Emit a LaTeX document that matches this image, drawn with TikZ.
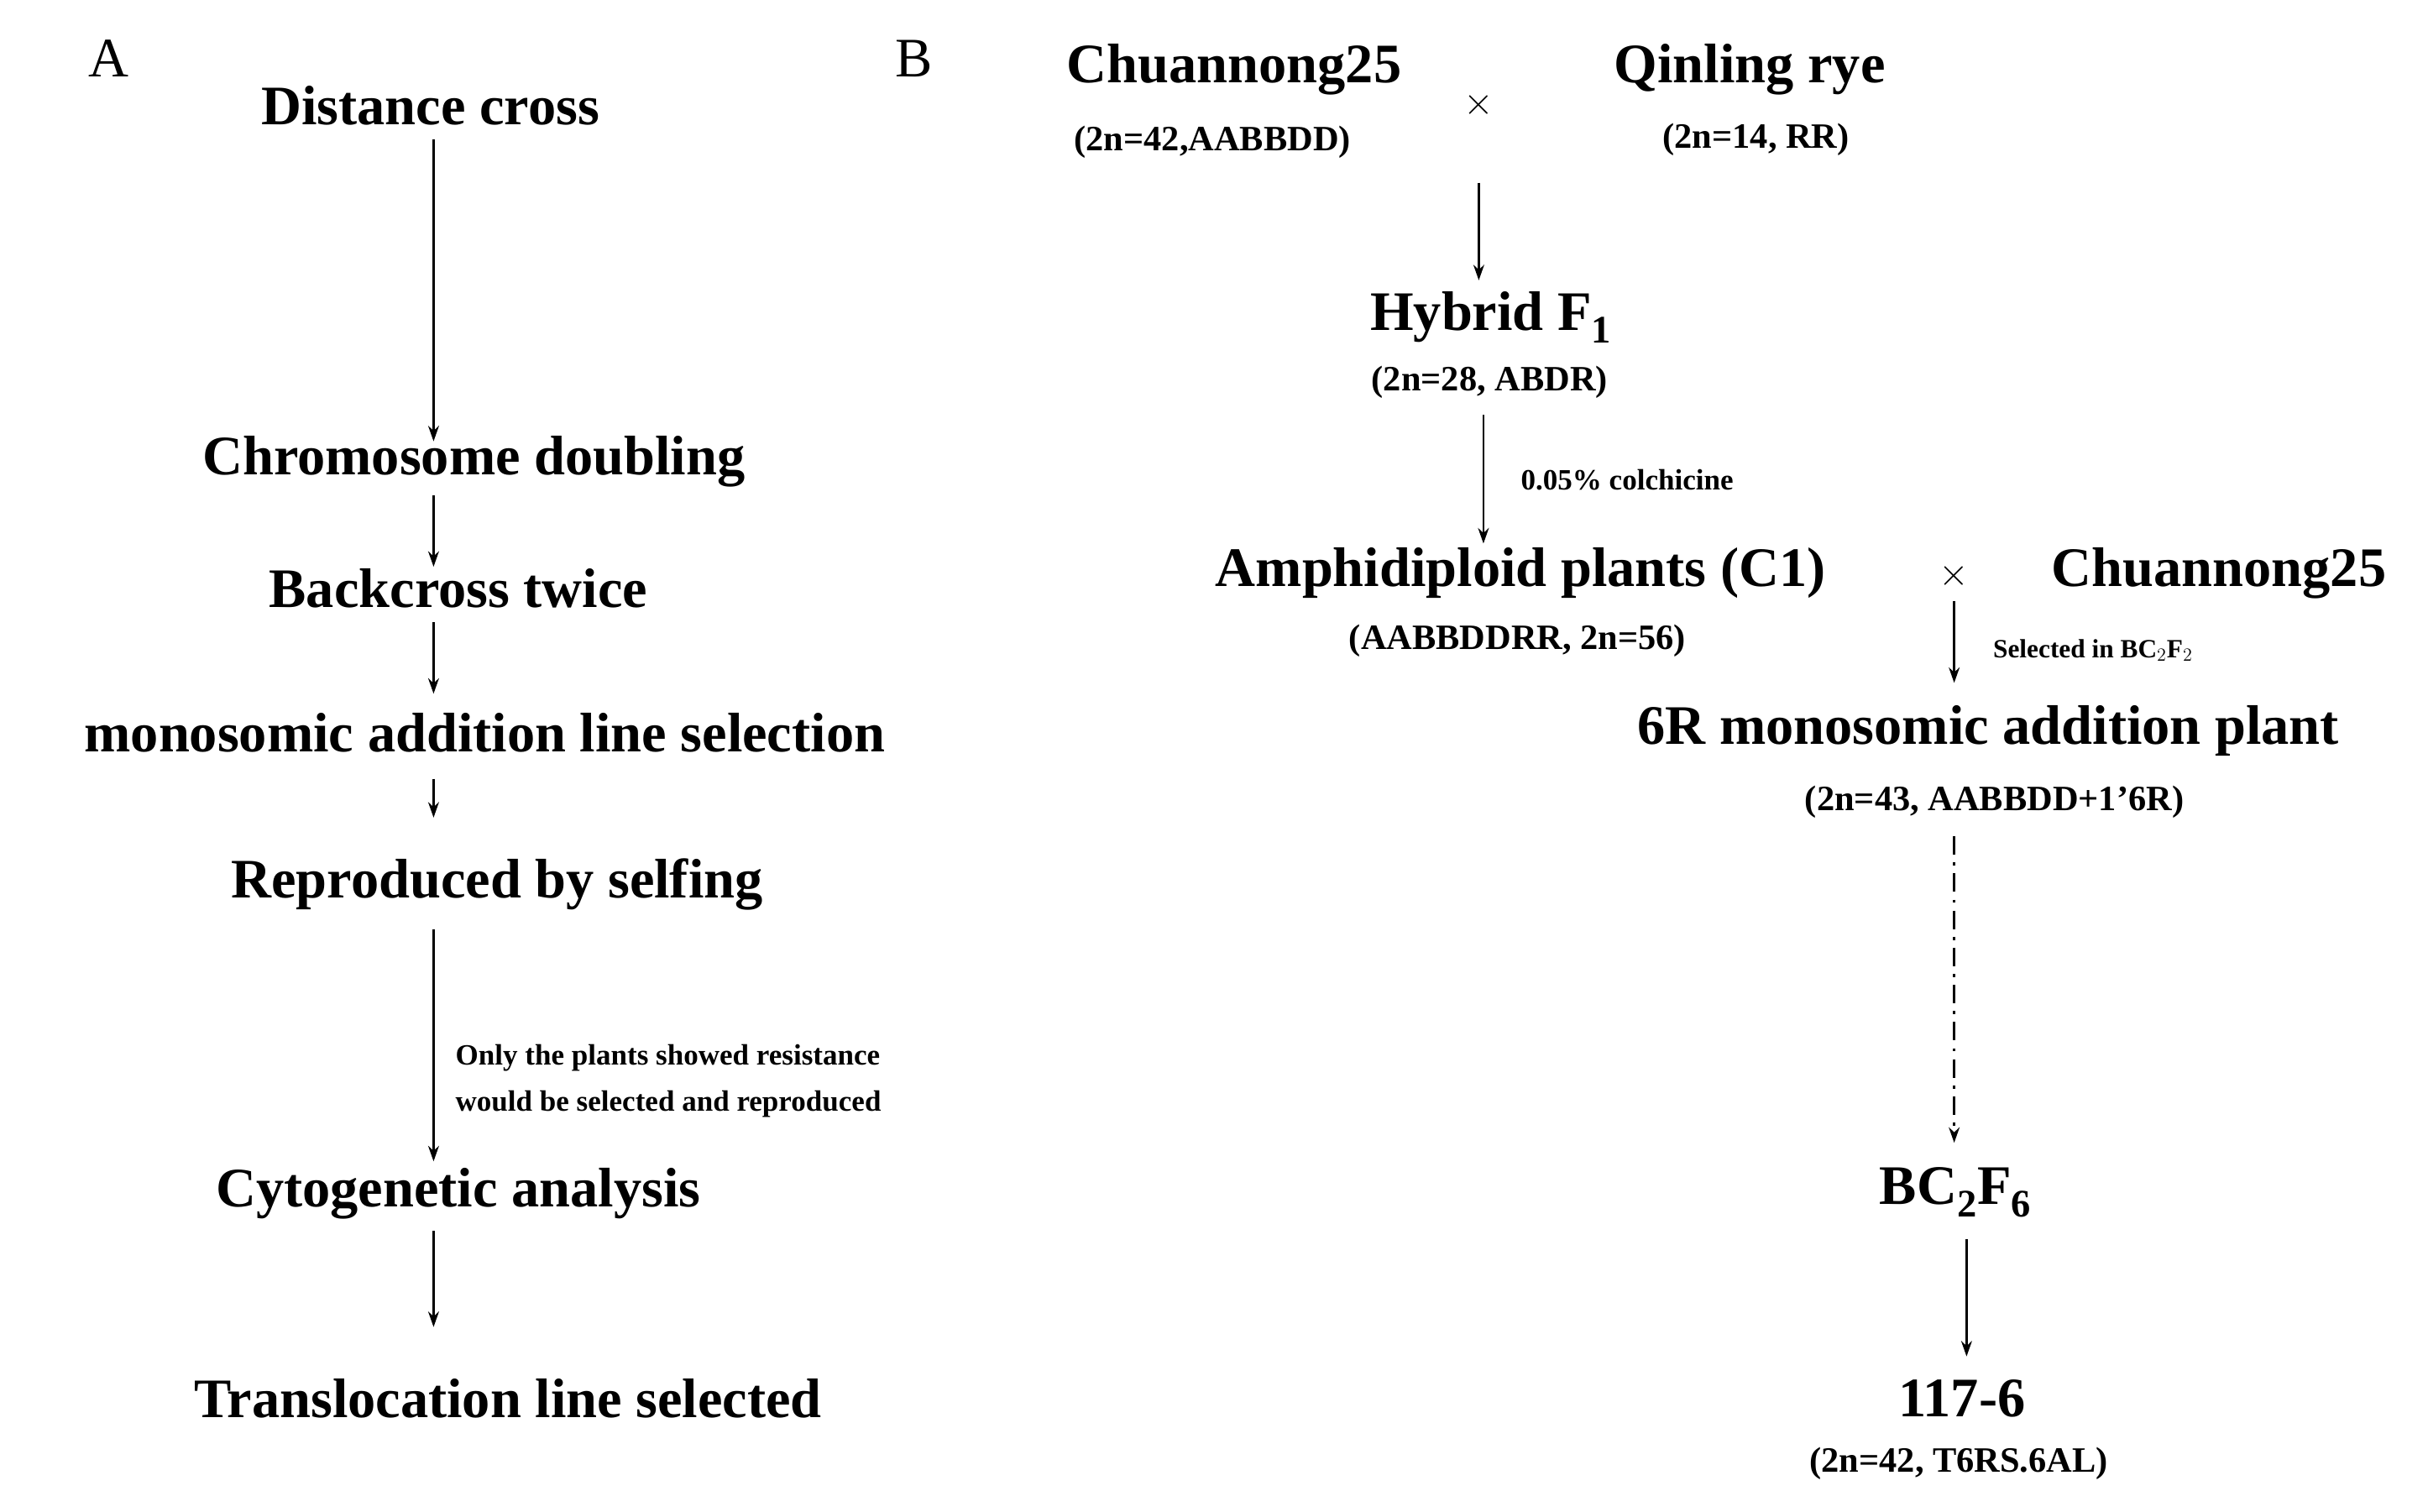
\documentclass[tikz,border=0pt]{standalone}
\usepackage{fontspec}
\setmainfont{Liberation Serif}
\usetikzlibrary{arrows.meta}
\begin{document}
\begin{tikzpicture}[x=1pt,y=-1pt,
 big/.style={font=\fontsize{36}{40}\selectfont\bfseries,inner sep=0pt},
 sub/.style={font=\fontsize{23}{26}\selectfont\bfseries,inner sep=0pt},
 small/.style={font=\fontsize{19}{30}\selectfont\bfseries,inner sep=0pt,anchor=west,align=left},
 lab/.style={font=\fontsize{36}{40}\selectfont,inner sep=0pt},
 arr/.style={-{Stealth[length=10pt,width=7pt]},line width=1.3pt}]
\useasboundingbox (0,0) rectangle (1568,976);
\node[lab] (LA) at (70,38) {A};
\node[big] (a1) at (278,68) {Distance cross};
\node[big] (a2) at (306,298) {Chromosome doubling};
\node[big] (a3) at (296,380) {Backcross twice};
\node[big] (a4) at (313,473) {monosomic addition line selection};
\node[big] (a5) at (321,571) {Reproduced by selfing};
\node[big] (a6) at (296,771) {Cytogenetic analysis};
\node[big] (a7) at (328,903) {Translocation line selected};
\coordinate (p1) at (280,90); \coordinate (q1) at (280,285);
\coordinate (p2) at (280,320); \coordinate (q2) at (280,366);
\coordinate (p3) at (280,402); \coordinate (q3) at (280,448);
\coordinate (p4) at (280,503); \coordinate (q4) at (280,528);
\coordinate (p5) at (280,600); \coordinate (q5) at (280,750);
\coordinate (p6) at (280,795); \coordinate (q6) at (280,857);
\draw[arr] (p1)--(q1); \draw[arr] (p2)--(q2); \draw[arr] (p3)--(q3);
\draw[arr] (p4)--(q4); \draw[arr] (p5)--(q5); \draw[arr] (p6)--(q6);
\node[small] (la) at (294,698) {Only the plants showed resistance\\would be selected and reproduced};

\node[lab] (LB) at (590,38) {B};
\node[big] (b1) at (797,45) {Chuannong25};
\node[sub] (b1s) at (783,92) {(2n=42,AABBDD)};
\node[big] (x1) at (955,68) {\fontsize{28}{30}\selectfont$\times$};
\node[big] (b2) at (1130,45) {Qinling rye};
\node[sub] (b2s) at (1134,90) {(2n=14, RR)};
\node[big] (b3) at (963,205) {Hybrid F$_{\mathbf 1}$};
\node[sub] (b3s) at (962,247) {(2n=28, ABDR)};
\node[big] (b4) at (982,370) {Amphidiploid plants (C1)};
\node[sub] (b4s) at (980,414) {(AABBDDRR, 2n=56)};
\node[big] (x2) at (1262,372) {\fontsize{28}{30}\selectfont$\times$};
\node[big] (b5) at (1433,370) {Chuannong25};
\node[big] (b6) at (1284,472) {6R monosomic addition plant};
\node[sub] (b6s) at (1288,518) {(2n=43, AABBDD+1'6R)};
\node[big] (b7) at (1263,770) {BC$_{\mathbf 2}$F$_{\mathbf 6}$};
\node[big] (b8) at (1267,903) {117-6};
\node[sub] (b8s) at (1265,945) {(2n=42, T6RS.6AL)};
\coordinate (r1) at (955,118); \coordinate (s1) at (955,181);
\coordinate (r2) at (958,268); \coordinate (s2) at (958,351);
\coordinate (r3) at (1262,388); \coordinate (s3) at (1262,441);
\coordinate (r4) at (1262,540); \coordinate (s4) at (1262,738);
\coordinate (r5) at (1270,800); \coordinate (s5) at (1270,876);
\draw[arr] (r1)--(s1); \draw[arr] (r2)--(s2); \draw[arr] (r3)--(s3);
\draw[arr,dash pattern=on 12pt off 5pt on 2pt off 5pt] (r4)--(s4);
\draw[arr] (r5)--(s5);
\node[small] (lb1) at (982,310) {0.05\% colchicine};
\node[small,font=\fontsize{17}{20}\selectfont\bfseries] (lb2) at (1287,420) {Selected in BC$_2$F$_2$};
\end{tikzpicture}
\end{document}
